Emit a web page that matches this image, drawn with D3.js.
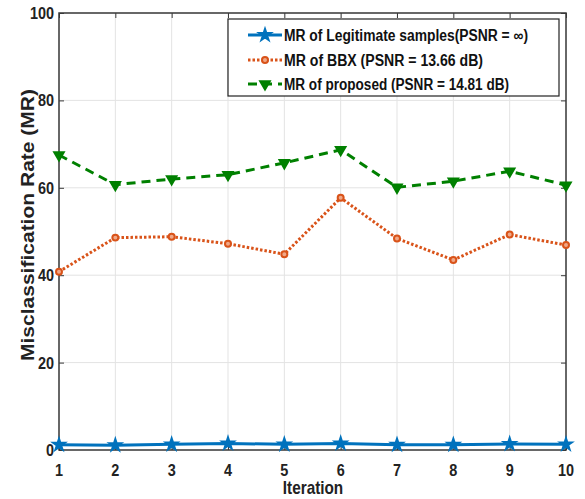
<!DOCTYPE html>
<html><head><meta charset="utf-8">
<script src="https://cdn.jsdelivr.net/npm/d3@7"></script>
<style>body{margin:0;background:#fff}svg{display:block}</style>
</head><body>
<script>
const iterations = [1,2,3,4,5,6,7,8,9,10];
const legitValues = [1.2,1.1,1.3,1.5,1.3,1.5,1.2,1.2,1.4,1.3];
const bbxValues = [40.8,48.6,48.8,47.2,44.8,57.7,48.4,43.5,49.3,46.9];
const proposedValues = [67.5,60.7,62.0,63.0,65.7,68.7,60.1,61.5,63.8,60.6];
const yTicks = [0,20,40,60,80,100];
const seriesNames = ["MR of Legitimate samples(PSNR = \u221E)","MR of BBX (PSNR = 13.66 dB)","MR of proposed (PSNR = 14.81 dB)"];

const W=585,H=499;
const L=59,R=566,T=13,B=450;
const svg=d3.select("body").append("svg").attr("width",W).attr("height",H);
const x=d3.scaleLinear().domain([1,10]).range([L,R]);
const y=d3.scaleLinear().domain([0,100]).range([B,T]);
const font="'Liberation Sans', Arial, sans-serif";

// grid
const g=svg.append("g");
g.selectAll(".gx").data(iterations).enter().append("line")
 .attr("x1",d=>x(d)).attr("x2",d=>x(d)).attr("y1",T).attr("y2",B)
 .attr("stroke","#e3e3e3").attr("stroke-width",1);
g.selectAll(".gy").data(yTicks).enter().append("line")
 .attr("y1",d=>y(d)).attr("y2",d=>y(d)).attr("x1",L).attr("x2",R)
 .attr("stroke","#e3e3e3").attr("stroke-width",1);

// axes
const axColor="#3a3a3a";
function styleAxis(sel){sel.select(".domain").remove();sel.selectAll("line").attr("stroke",axColor);sel.selectAll("text").remove();}
svg.append("g").attr("transform",`translate(0,${B})`).call(d3.axisBottom(x).tickValues(iterations).tickSize(-5)).call(styleAxis);
svg.append("g").attr("transform",`translate(0,${T})`).call(d3.axisTop(x).tickValues(iterations).tickSize(-5)).call(styleAxis);
svg.append("g").attr("transform",`translate(${L},0)`).call(d3.axisLeft(y).tickValues(yTicks).tickSize(-5)).call(styleAxis);
svg.append("g").attr("transform",`translate(${R},0)`).call(d3.axisRight(y).tickValues(yTicks).tickSize(-5)).call(styleAxis);
svg.append("rect").attr("x",L).attr("y",T).attr("width",R-L).attr("height",B-T)
 .attr("fill","none").attr("stroke",axColor).attr("stroke-width",1.5);

// tick labels
svg.selectAll(".xl").data(iterations).enter().append("text")
 .attr("x",d=>x(d)).attr("y",B+26).attr("text-anchor","middle")
 .attr("font-family",font).attr("font-weight","bold").attr("font-size",17)
 .attr("transform",d=>`translate(${x(d)},0) scale(0.85,1) translate(${-x(d)},0)`)
 .attr("fill","#222").text(d=>d);
svg.selectAll(".yl").data(yTicks).enter().append("text")
 .attr("x",L-5).attr("y",d=>y(d)+6).attr("text-anchor","end")
 .attr("font-family",font).attr("font-weight","bold").attr("font-size",17)
 .attr("transform",`translate(${L-5},0) scale(0.85,1) translate(${-(L-5)},0)`)
 .attr("fill","#222").text(d=>d);

// axis titles
svg.append("text").attr("x",313).attr("y",494).attr("text-anchor","middle")
 .attr("font-family",font).attr("font-weight","bold").attr("font-size",18)
 .attr("transform","translate(313,0) scale(0.85,1) translate(-313,0)")
 .attr("fill","#222").text("Iteration");
svg.append("text").attr("transform",`translate(34,225) rotate(-90)`)
 .attr("text-anchor","middle").attr("font-family",font).attr("font-weight","bold").attr("font-size",19)
 .attr("textLength",272).attr("lengthAdjust","spacingAndGlyphs")
 .attr("fill","#222").text("Misclassification Rate (MR)");

// series
const blue="#0072BD",orange="#D95319",green="#008000";
const line=d3.line().x((d,i)=>x(iterations[i])).y(d=>y(d));
const star=d3.symbol().type(d3.symbolStar).size(42);
const circ=d3.symbol().type(d3.symbolCircle).size(28);
const tri=d3.symbol().type(d3.symbolTriangle).size(40);

function drawSeries(vals,color,dash,width,sym,fill,rot){
 svg.append("path").datum(vals).attr("d",line).attr("fill","none")
  .attr("stroke",color).attr("stroke-width",width).attr("stroke-dasharray",dash);
 svg.selectAll(null).data(vals).enter().append("path")
  .attr("d",sym()).attr("transform",(d,i)=>`translate(${x(iterations[i])},${y(d)}) rotate(${rot})`)
  .attr("fill",fill).attr("stroke",color).attr("stroke-width",2);
}
drawSeries(proposedValues,green,"9,6",3,tri,green,180);
drawSeries(bbxValues,orange,"2.5,2",3,circ,"#f0a888",0);
drawSeries(legitValues,blue,null,3,star,blue,0);

// legend
const lg=svg.append("g");
lg.append("rect").attr("x",228).attr("y",19).attr("width",331).attr("height",77)
 .attr("fill","#fff").attr("stroke","#222").attr("stroke-width",1.2);
const rows=[35,60,84];
const cfg=[
 {c:blue,dash:null,w:3,sym:star,fill:blue,rot:0,tl:244},
 {c:orange,dash:"2.5,2",w:3,sym:circ,fill:"#f0a888",rot:0,tl:199},
 {c:green,dash:"9,6",w:3,sym:tri,fill:green,rot:180,tl:225}
];
seriesNames.forEach((name,i)=>{
 const c=cfg[i],yy=rows[i];
 lg.append("line").attr("x1",248).attr("x2",282).attr("y1",yy).attr("y2",yy)
  .attr("stroke",c.c).attr("stroke-width",c.w).attr("stroke-dasharray",c.dash);
 lg.append("path").attr("d",c.sym()).attr("transform",`translate(265,${yy}) rotate(${c.rot})`)
  .attr("fill",c.fill).attr("stroke",c.c).attr("stroke-width",2);
 lg.append("text").attr("x",284).attr("y",yy+6).attr("font-family",font).attr("font-weight","bold")
  .attr("font-size",16).attr("fill","#111").attr("textLength",c.tl).attr("lengthAdjust","spacingAndGlyphs").text(name);
});
</script>
</body></html>
